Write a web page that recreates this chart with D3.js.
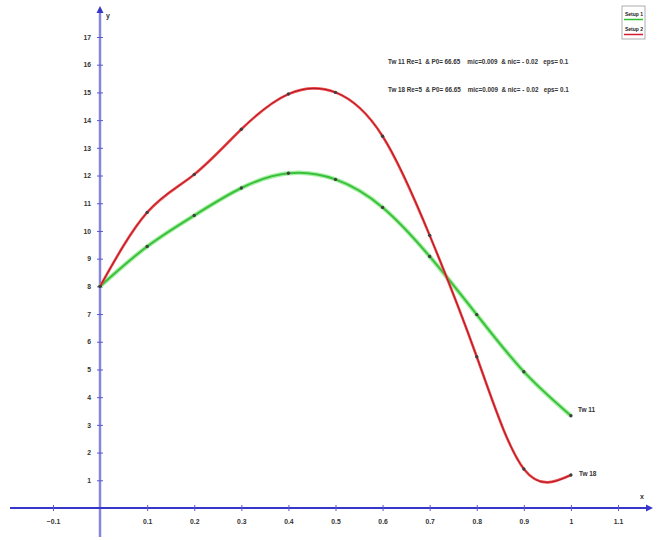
<!DOCTYPE html>
<html><head><meta charset="utf-8">
<script src="https://cdn.jsdelivr.net/npm/d3@7"></script>
<style>body{margin:0;background:#fff}svg{display:block}</style>
</head><body>
<svg id="c" width="658" height="540"></svg>
<script>
const xValues = [0, 0.1, 0.2, 0.3, 0.4, 0.5, 0.6, 0.7, 0.8, 0.9, 1.0];
const tw11 = [8, 9.44, 10.56, 11.55, 12.08, 11.86, 10.85, 9.08, 6.98, 4.92, 3.33];
const tw18 = [8, 10.67, 12.04, 13.67, 14.94, 15.0, 13.42, 9.84, 5.46, 1.41, 1.19];
const xTicks = [-0.1, 0.1, 0.2, 0.3, 0.4, 0.5, 0.6, 0.7, 0.8, 0.9, 1, 1.1];
const yTicks = [1,2,3,4,5,6,7,8,9,10,11,12,13,14,15,16,17];
const seriesNames = ["Setup 1", "Setup 2"];
const endLabels = ["Tw 11", "Tw 18"];
const notes = ["Tw 11 Re=1  & P0= 66.65    mic=0.009  & nic= - 0.02   eps= 0.1",
               "Tw 18 Re=5  & P0= 66.65    mic=0.009  & nic= - 0.02   eps= 0.1"];

const svg = d3.select("#c");
const x = d3.scaleLinear().domain([-0.1, 1.1]).range([53, 618]);
const y = d3.scaleLinear().domain([0, 17]).range([508, 37]);
const axisCol = "#3636c8";
const font = "'Liberation Sans', Arial, sans-serif";

// axes lines
svg.append("line").attr("x1", 100).attr("x2", 100).attr("y1", 10).attr("y2", 537)
  .attr("stroke", "#c8c8f0").attr("stroke-width", 3);
svg.append("line").attr("x1", 100).attr("x2", 100).attr("y1", 10).attr("y2", 537)
  .attr("stroke", "#5a5ad0").attr("stroke-width", 1.2);
svg.append("line").attr("x1", 10).attr("x2", 646).attr("y1", y(0)).attr("y2", y(0))
  .attr("stroke", axisCol).attr("stroke-width", 2);
// arrows
svg.append("path").attr("d", `M646,${y(0)-3.5} L653,${y(0)} L646,${y(0)+3.5}Z`).attr("fill", axisCol);
svg.append("path").attr("d", `M96.5,13 L100,6 L103.5,13Z`).attr("fill", axisCol);
svg.append("text").attr("x", 106).attr("y", 18).text("y").attr("font-family", font)
  .attr("font-size", 7).attr("font-weight", "bold").attr("fill", "#333");
svg.append("text").attr("x", 640).attr("y", 499).text("x").attr("font-family", font)
  .attr("font-size", 7).attr("font-weight", "bold").attr("fill", "#333");

// x axis
const gx = svg.append("g").attr("transform", `translate(0,${y(0)})`)
  .call(d3.axisBottom(x).tickValues(xTicks).tickSize(3).tickPadding(8)
    .tickFormat(d => d3.format("")(+d.toFixed(1))));
gx.select(".domain").remove();
gx.selectAll(".tick line").attr("y1", -3).attr("y2", 3).attr("stroke", "#5a5ad0");
gx.selectAll(".tick text").attr("font-family", font).attr("font-size", 6.8)
  .attr("font-weight", "bold").attr("fill", "#333");

// y axis
const gy = svg.append("g").attr("transform", `translate(100,0)`)
  .call(d3.axisLeft(y).tickValues(yTicks).tickSize(3).tickPadding(6));
gy.select(".domain").remove();
gy.selectAll(".tick line").attr("x1", -3).attr("x2", 3).attr("stroke", "#5a5ad0");
gy.selectAll(".tick text").attr("font-family", font).attr("font-size", 6.8)
  .attr("font-weight", "bold").attr("fill", "#333");

// lines
const line = d3.line().x(d => x(d[0])).y(d => y(d[1])).curve(d3.curveNatural);
const d11 = xValues.map((v, i) => [v, tw11[i]]);
const d18 = xValues.map((v, i) => [v, tw18[i]]);
svg.append("path").attr("d", line(d11)).attr("fill", "none").attr("stroke", "#a8f0a8").attr("stroke-width", 4.5);
svg.append("path").attr("d", line(d11)).attr("fill", "none").attr("stroke", "#3cc03c").attr("stroke-width", 2);
svg.append("path").attr("d", line(d18)).attr("fill", "none").attr("stroke", "#f04848").attr("stroke-width", 2.6);
svg.append("path").attr("d", line(d18)).attr("fill", "none").attr("stroke", "#a81828").attr("stroke-width", 1);

// markers
[d11, d18].forEach(ds => {
  svg.append("g").selectAll("circle").data(ds).join("circle")
    .attr("cx", d => x(d[0])).attr("cy", d => y(d[1])).attr("r", 1.7).attr("fill", "#404040");
});

// end labels
svg.append("text").attr("x", x(1) + 7).attr("y", y(tw11[10]) - 4).text(endLabels[0])
  .attr("font-family", font).attr("font-size", 6.5).attr("font-weight", "bold").attr("fill", "#333");
svg.append("text").attr("x", x(1) + 8).attr("y", y(tw18[10]) + 1).text(endLabels[1])
  .attr("font-family", font).attr("font-size", 6.5).attr("font-weight", "bold").attr("fill", "#333");

// notes
notes.forEach((t, i) => {
  svg.append("text").attr("x", 388).attr("y", 64 + i * 28).text(t).attr("xml:space", "preserve")
    .style("white-space", "pre")
    .attr("font-family", font).attr("font-size", 6.3).attr("font-weight", "bold").attr("fill", "#333");
});

// legend
const lg = svg.append("g");
lg.append("rect").attr("x", 622).attr("y", 6).attr("width", 23).attr("height", 33)
  .attr("fill", "#fff").attr("stroke", "#999").attr("stroke-width", 0.8);
const cols = ["#2ec02e", "#d02030"];
seriesNames.forEach((n, i) => {
  lg.append("text").attr("x", 625).attr("y", 16 + i * 15).text(n)
    .attr("font-family", font).attr("font-size", 5).attr("font-weight", "bold").attr("fill", "#222");
  lg.append("line").attr("x1", 624).attr("x2", 643).attr("y1", 19.5 + i * 15).attr("y2", 19.5 + i * 15)
    .attr("stroke", cols[i]).attr("stroke-width", 1.5);
});
</script>
</body></html>
